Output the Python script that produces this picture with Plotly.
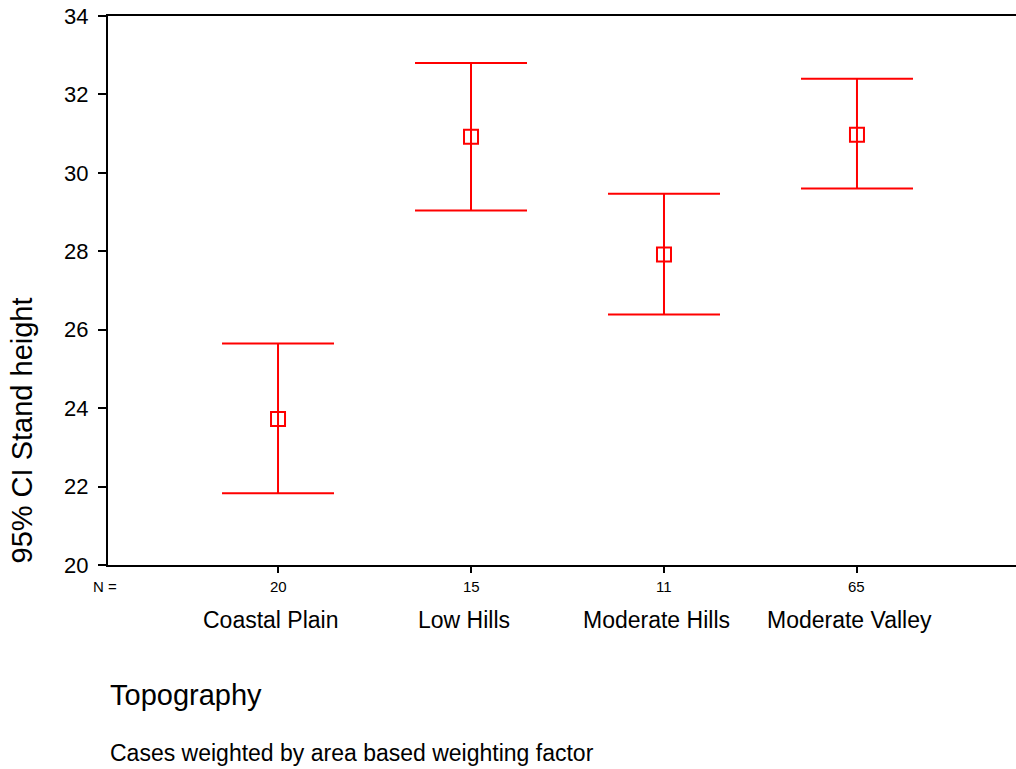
import plotly.graph_objects as go

# Topography groups, case counts and 95% confidence intervals of stand height
categories = ["Coastal Plain", "Low Hills", "Moderate Hills", "Moderate Valley"]
counts = [20, 15, 11, 65]
means = [23.72, 30.92, 27.92, 30.97]
upper = [25.65, 32.80, 29.47, 32.40]
lower = [21.83, 29.04, 26.39, 29.60]

RED = "#ff0000"
FONT = "Liberation Sans, Arial, sans-serif"

err_plus = [u - m for u, m in zip(upper, means)]
err_minus = [m - l for m, l in zip(means, lower)]

fig = go.Figure()
fig.add_trace(go.Scatter(
    x=categories,
    y=means,
    mode="markers",
    marker=dict(symbol="square-open", size=14, color=RED, line=dict(width=2, color=RED)),
    error_y=dict(type="data", symmetric=False, array=err_plus, arrayminus=err_minus,
                 color=RED, thickness=2, width=56),
    showlegend=False,
    hoverinfo="skip",
))

annotations = []
# group sizes and names below the axis
for cat, n in zip(categories, counts):
    annotations.append(dict(x=cat, xref="x", y=0, yref="paper", yanchor="middle",
                            yshift=-21, text=str(n), showarrow=False,
                            font=dict(family=FONT, size=15, color="black")))
    annotations.append(dict(x=cat, xref="x", xshift=-7, y=0, yref="paper",
                            yanchor="middle", yshift=-55, text=cat, showarrow=False,
                            font=dict(family=FONT, size=23, color="black")))
annotations += [
    dict(x=0, xref="paper", xshift=-3, xanchor="center", y=0, yref="paper",
         yanchor="middle", yshift=-21, text="N =", showarrow=False,
         font=dict(family=FONT, size=15, color="black")),
    dict(x=0, xref="paper", xanchor="left", y=0, yref="paper", yanchor="middle",
         yshift=-130, text="Topography", showarrow=False,
         font=dict(family=FONT, size=29, color="black")),
    dict(x=0, xref="paper", xanchor="left", y=0, yref="paper", yanchor="middle",
         yshift=-188, text="Cases weighted by area based weighting factor", showarrow=False,
         font=dict(family=FONT, size=23, color="black")),
    dict(x=0, xref="paper", xshift=-86, xanchor="center", y=0.245, yref="paper",
         yanchor="middle", text="95% CI Stand height", textangle=-90, showarrow=False,
         font=dict(family=FONT, size=29, color="black")),
]

fig.update_layout(
    width=1016, height=769,
    margin=dict(l=108, r=0, t=16, b=204),
    paper_bgcolor="white", plot_bgcolor="white",
    font=dict(family=FONT, color="black"),
    annotations=annotations,
    xaxis=dict(
        type="category",
        range=[-0.881, 3.824],
        tickvals=categories,
        showticklabels=False,
        ticks="outside", ticklen=6, tickwidth=2, tickcolor="black",
        showline=True, linecolor="black", linewidth=2, mirror=True,
        showgrid=False, zeroline=False,
    ),
    yaxis=dict(
        range=[20, 34], dtick=2, tick0=20,
        ticks="outside", ticklen=8, tickwidth=2, tickcolor="black",
        tickfont=dict(family=FONT, size=22, color="black"),
        ticklabelstandoff=5,
        showline=True, linecolor="black", linewidth=2,
        showgrid=False, zeroline=False,
    ),
)

fig.write_html("out.html")
